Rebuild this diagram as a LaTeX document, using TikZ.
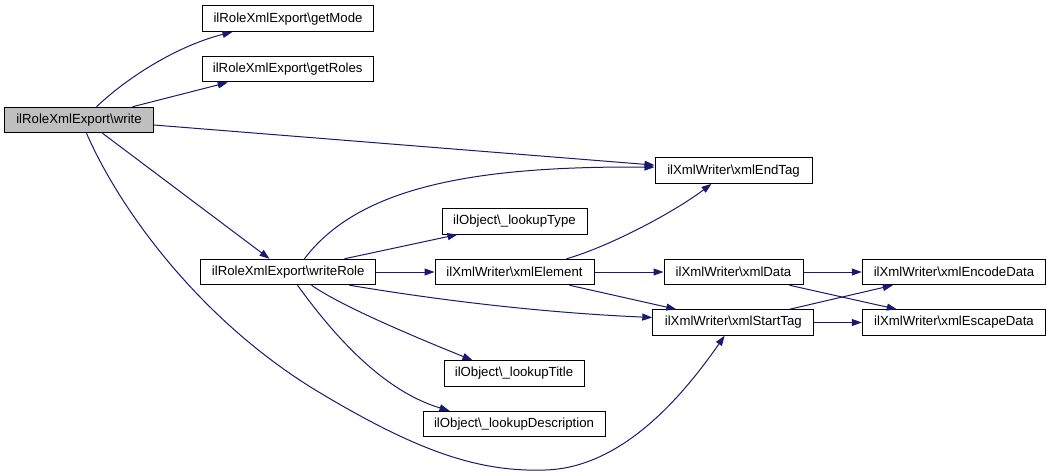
\documentclass[tikz,border=0pt]{standalone}
\usepackage{fontspec}
\setmainfont{Liberation Sans}
\usetikzlibrary{arrows.meta}
\definecolor{edgeblue}{HTML}{191970}
\definecolor{hlgray}{HTML}{BFBFBF}
\tikzset{
  fn/.style={draw=black, line width=1pt, minimum height=25.5pt, inner sep=0pt,
    font=\fontsize{13.2}{15}\selectfont, text=black, anchor=center},
  e/.style={draw=edgeblue, line width=1pt, -{Triangle[length=10pt,width=7pt]}},
}
\begin{document}
\begin{tikzpicture}[x=1pt,y=-1pt]
\useasboundingbox (0,0) rectangle (1051,475);
\fill[white] (0,0) rectangle (1051,475);
% nodes
\node[fn, fill=hlgray, minimum width=149pt] (write) at (79,120) {ilRoleXmlExport\textbackslash write};
\node[fn, minimum width=171pt] (getMode) at (288,18.7) {ilRoleXmlExport\textbackslash getMode};
\node[fn, minimum width=171pt] (getRoles) at (287.7,69.2) {ilRoleXmlExport\textbackslash getRoles};
\node[fn, minimum width=175pt] (writeRole) at (288.2,272) {ilRoleXmlExport\textbackslash writeRole};
\node[fn, minimum width=145pt] (lookupType) at (514.5,221.3) {ilObject\textbackslash\_lookupType};
\node[fn, minimum width=159pt] (xmlElement) at (514.5,272) {ilXmlWriter\textbackslash xmlElement};
\node[fn, minimum width=140pt] (lookupTitle) at (514,373.5) {ilObject\textbackslash\_lookupTitle};
\node[fn, minimum width=182pt] (lookupDesc) at (514,424) {ilObject\textbackslash\_lookupDescription};
\node[fn, minimum width=157pt] (xmlEndTag) at (733.5,170.6) {ilXmlWriter\textbackslash xmlEndTag};
\node[fn, minimum width=139pt] (xmlData) at (733.5,272) {ilXmlWriter\textbackslash xmlData};
\node[fn, minimum width=161pt] (xmlStartTag) at (733.3,322.5) {ilXmlWriter\textbackslash xmlStartTag};
\node[fn, minimum width=183.4pt] (xmlEncode) at (954,272) {ilXmlWriter\textbackslash xmlEncodeData};
\node[fn, minimum width=183.4pt] (xmlEscape) at (954,322.5) {ilXmlWriter\textbackslash xmlEscapeData};
% edges from write
\draw[e] ([xshift=92.5pt]write.north west) .. controls (130,75) and (180,45) .. ([xshift=30.5pt]getMode.south west);
\draw[e] ([xshift=128.5pt]write.north west) -- ([xshift=26pt]getRoles.south west);
\draw[e] ([yshift=-5pt]write.east) -- ([yshift=5.5pt]xmlEndTag.west);
\draw[e] ([xshift=98.5pt]write.south west) -- ([xshift=69.3pt]writeRole.north west);
\draw[e] ([xshift=82.5pt]write.south west) .. controls (120,210) and (200,320) .. (317,391)
  .. controls (420,453) and (480,472) .. (545,470)
  .. controls (620,468) and (680,400) .. ([xshift=72.3pt]xmlStartTag.south west);
% edges from writeRole
\draw[e] ([xshift=104.3pt]writeRole.north west) .. controls (360,185) and (480,166) .. ([yshift=3.5pt]xmlEndTag.west);
\draw[e] ([xshift=144.3pt]writeRole.north west) -- ([xshift=16pt]lookupType.south west);
\draw[e] (writeRole.east) -- (xmlElement.west);
\draw[e] ([xshift=149.3pt]writeRole.south west) .. controls (450,302) and (550,313) .. ([yshift=5pt]xmlStartTag.west);
\draw[e] ([xshift=111.3pt]writeRole.south west) .. controls (340,305) and (405,333) .. ([xshift=29pt]lookupTitle.north west);
\draw[e] ([xshift=97.3pt]writeRole.south west) .. controls (330,330) and (380,390) .. ([xshift=27pt]lookupDesc.north west);
% edges from xmlElement
\draw[e] ([xshift=132pt]xmlElement.north west) .. controls (605,248) and (670,215) .. ([xshift=57pt]xmlEndTag.south west);
\draw[e] (xmlElement.east) -- (xmlData.west);
\draw[e] ([xshift=135pt]xmlElement.south west) -- ([xshift=24pt]xmlStartTag.north west);
% edges from xmlData
\draw[e] (xmlData.east) -- (xmlEncode.west);
\draw[e] ([xshift=126pt]xmlData.south west) -- ([xshift=35pt]xmlEscape.north west);
% edges from xmlStartTag
\draw[e] ([xshift=137.3pt]xmlStartTag.north west) -- ([xshift=31pt]xmlEncode.south west);
\draw[e] (xmlStartTag.east) -- (xmlEscape.west);
\end{tikzpicture}
\end{document}
